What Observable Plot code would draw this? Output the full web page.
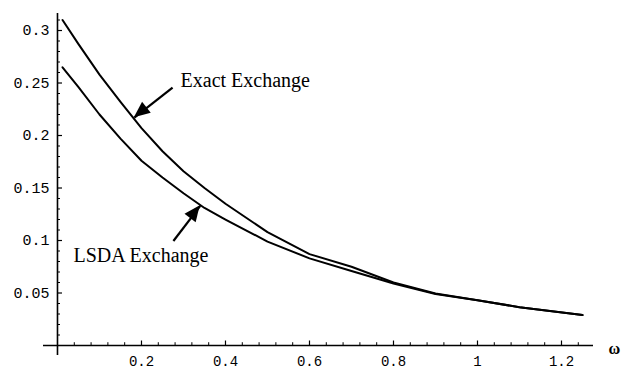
<!DOCTYPE html>
<html>
<head>
<meta charset="utf-8">
<script src="https://cdn.jsdelivr.net/npm/d3@7"></script>
<script src="https://cdn.jsdelivr.net/npm/@observablehq/plot@0.6"></script>
<style>
  html, body { margin: 0; padding: 0; background: #fff; }
  #chart { width: 623px; height: 370px; }
</style>
</head>
<body>
<div id="chart"></div>
<script>
// ---- data ----
const omega = [0.012, 0.05, 0.1, 0.15, 0.2, 0.25, 0.3, 0.35, 0.4, 0.5, 0.6, 0.7, 0.8, 0.9, 1.0, 1.1, 1.25];
const exactExchange = [0.310, 0.287, 0.258, 0.232, 0.207, 0.185, 0.166, 0.150, 0.135, 0.108, 0.087, 0.075, 0.060, 0.0495, 0.043, 0.0365, 0.029];
const lsdaExchange  = [0.265, 0.246, 0.220, 0.197, 0.176, 0.160, 0.145, 0.131, 0.120, 0.099, 0.083, 0.071, 0.059, 0.049, 0.043, 0.0365, 0.029];

const xTicks = [0.2, 0.4, 0.6, 0.8, 1, 1.2];
const xTickLabels = ["0.2", "0.4", "0.6", "0.8", "1", "1.2"];
const xMinorTicks = [0.04, 0.08, 0.12, 0.16, 0.24, 0.28, 0.32, 0.36, 0.44, 0.48, 0.52, 0.56, 0.64, 0.68, 0.72, 0.76, 0.84, 0.88, 0.92, 0.96, 1.04, 1.08, 1.12, 1.16, 1.24];
const yTicks = [0.05, 0.1, 0.15, 0.2, 0.25, 0.3];
const yTickLabels = ["0.05", "0.1", "0.15", "0.2", "0.25", "0.3"];
const yMinorTicks = [0.01, 0.02, 0.03, 0.04, 0.06, 0.07, 0.08, 0.09, 0.11, 0.12, 0.13, 0.14, 0.16, 0.17, 0.18, 0.19, 0.21, 0.22, 0.23, 0.24, 0.26, 0.27, 0.28, 0.29, 0.31];

const curveNames = ["Exact Exchange", "LSDA Exchange"];
// annotation labels and arrows (tail -> tip, in data units)
const annotations = [
  {text: "Exact Exchange", x: 0.293, y: 0.2525, x1: 0.274, y1: 0.2457, x2: 0.183, y2: 0.217},
  {text: "LSDA Exchange",  x: 0.038, y: 0.0855, x1: 0.276, y1: 0.0995, x2: 0.340, y2: 0.133}
];

const series = [
  ...omega.map((w, i) => ({omega: w, value: exactExchange[i], curve: curveNames[0]})),
  ...omega.map((w, i) => ({omega: w, value: lsdaExchange[i], curve: curveNames[1]}))
];

// ---- layout ----
const W = 623, H = 370;
const mL = 43, mR = 30, mT = 13, mB = 15;
const xDomain = [-0.0333, 1.2762];
const yDomain = [-0.00952, 0.3162];
const pxPerX = (W - mL - mR) / (xDomain[1] - xDomain[0]);
const pxPerY = (H - mT - mB) / (yDomain[1] - yDomain[0]);

const mono = "'Courier New', 'Liberation Mono', monospace";
const serif = "'Liberation Serif', 'Times New Roman', serif";

const chart = Plot.plot({
  width: W, height: H,
  marginLeft: mL, marginRight: mR, marginTop: mT, marginBottom: mB,
  x: {domain: xDomain, axis: null},
  y: {domain: yDomain, axis: null},
  style: {background: "white", overflow: "visible"},
  marks: [
    // axes lines
    Plot.ruleY([0], {stroke: "black", strokeWidth: 1.6}),
    Plot.ruleX([0], {stroke: "black", strokeWidth: 1.6}),
    // x ticks (drawn upward from axis)
    Plot.ruleX(xTicks, {x: d => d, y1: 0, y2: 4.5 / pxPerY, stroke: "black", strokeWidth: 1.2}),
    Plot.ruleX(xMinorTicks, {x: d => d, y1: 0, y2: 2.8 / pxPerY, stroke: "black", strokeWidth: 1}),
    // y ticks (drawn rightward from axis)
    Plot.ruleY(yTicks, {y: d => d, x1: 0, x2: 5 / pxPerX, stroke: "black", strokeWidth: 1.2}),
    Plot.ruleY(yMinorTicks, {y: d => d, x1: 0, x2: 3 / pxPerX, stroke: "black", strokeWidth: 1}),
    // tick labels
    Plot.text(xTicks, {x: d => d, y: 0, text: (d, i) => xTickLabels[i], dy: 16.5,
      fontFamily: mono, fontSize: 14, fill: "black", textAnchor: "middle", lineAnchor: "middle"}),
    Plot.text(yTicks, {x: 0, y: d => d, text: (d, i) => yTickLabels[i], dx: -8,
      fontFamily: mono, fontSize: 15, fill: "black", textAnchor: "end", lineAnchor: "middle"}),
    // axis label
    Plot.text(["ω"], {x: 1.312, y: 0, text: d => d, dy: 3, fontFamily: serif, fontSize: 16,
      fontWeight: "bold", textAnchor: "start", lineAnchor: "middle", fill: "black"}),
    // curves
    Plot.line(series, {x: "omega", y: "value", z: "curve", stroke: "black", strokeWidth: 2, curve: "linear"}),
    // annotations
    Plot.link(annotations, {x1: "x1", y1: "y1", x2: "x2", y2: "y2", stroke: "black", strokeWidth: 2.2}),
    Plot.text(annotations, {x: "x", y: "y", text: "text", fontFamily: serif, fontSize: 20,
      textAnchor: "start", lineAnchor: "middle", fill: "black"})
  ]
});

// filled arrowheads placed via the plot's own scales
const sx = chart.scale("x"), sy = chart.scale("y");
const svg = d3.select(chart);
annotations.forEach(a => {
  const tx = sx.apply(a.x2), ty = sy.apply(a.y2);
  const ox = sx.apply(a.x1), oy = sy.apply(a.y1);
  const dx = tx - ox, dy = ty - oy, len = Math.hypot(dx, dy);
  const ux = dx / len, uy = dy / len, nx = -uy, ny = ux;
  const L = 16, hw = 7;
  const bx = tx - ux * L, by = ty - uy * L;
  const pts = [[tx, ty], [bx + nx * hw, by + ny * hw], [bx - nx * hw, by - ny * hw]];
  svg.append("polygon").attr("points", pts.map(p => p.join(",")).join(" ")).attr("fill", "black");
});

document.getElementById("chart").appendChild(chart);
</script>
</body>
</html>
